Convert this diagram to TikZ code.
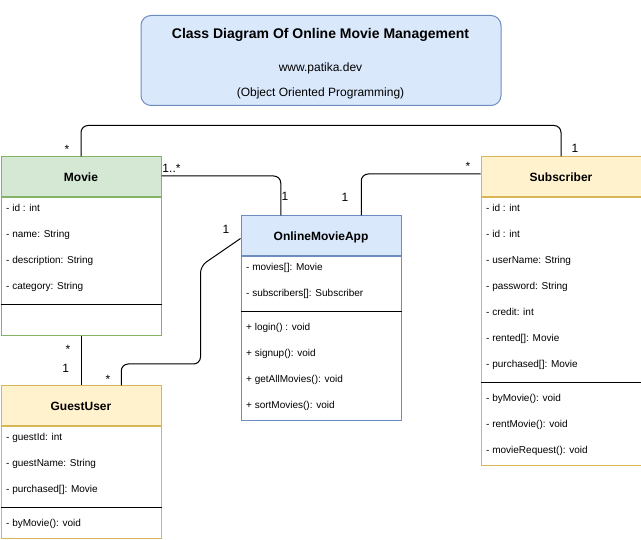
\documentclass[tikz,border=0pt]{standalone}
\usepackage{fontspec}
\setmainfont{Liberation Sans}
\usetikzlibrary{calc}
\definecolor{greenF}{HTML}{D5E8D4}
\definecolor{greenD}{HTML}{82B366}
\definecolor{blueF}{HTML}{DAE8FC}
\definecolor{blueD}{HTML}{6C8EBF}
\definecolor{yelF}{HTML}{FFF2CC}
\definecolor{yelD}{HTML}{D6B656}
\begin{document}
\begin{tikzpicture}[x=1pt,y=-1pt,
 hdr/.style={draw, line width=1pt, minimum width=160, minimum height=40, anchor=north west, inner sep=0,
   font=\fontsize{12}{14}\selectfont\bfseries, text height=8.6pt, text depth=0pt},
 bodybox/.style={draw, line width=1pt, fill=white, minimum width=160, anchor=north west, inner sep=0},
 attr/.style={anchor=base west, inner sep=0, font=\fontsize{10}{12}\selectfont},
 sepline/.style={line width=1pt, draw=black},
 conn/.style={line width=1pt, rounded corners=7pt},
 mult/.style={anchor=base, inner sep=0, font=\fontsize{12}{14}\selectfont},
]
\useasboundingbox (0,0) rectangle (641,540);

% title
\node[draw=blueD, fill=blueF, line width=1pt, rounded corners=10pt, minimum width=360, minimum height=90,
      anchor=north west, inner sep=0] (title) at (140.5,15) {};
\node[anchor=base, inner sep=0, font=\fontsize{14}{16}\selectfont\bfseries] (t1) at (320.5,39) {Class Diagram Of Online Movie Management};
\node[anchor=base, inner sep=0, font=\fontsize{12}{14}\selectfont] (t2) at (320.5,72) {www.patika.dev};
\node[anchor=base, inner sep=0, font=\fontsize{12}{14}\selectfont] (t3) at (320.5,97) {(Object Oriented Programming)};

% Movie
\node[hdr, draw=greenD, fill=greenF] (movie) at (0.5,156.5) {Movie};
\node[bodybox, draw=greenD, minimum height=138] (moviebody) at (movie.south west) {};
\node[attr] (m1) at (6,212) {- id : int};
\node[attr] (m2) at (6,238) {- name: String};
\node[attr] (m3) at (6,264) {- description: String};
\node[attr] (m4) at (6,290) {- category: String};
\draw[sepline] (moviebody.west |- 0,304.5) -- (moviebody.east |- 0,304.5);

% OnlineMovieApp
\node[hdr, draw=blueD, fill=blueF] (app) at (240.5,215.5) {OnlineMovieApp};
\node[bodybox, draw=blueD, minimum height=164] (appbody) at (app.south west) {};
\node[attr] (a1) at (246,271) {- movies[]: Movie};
\node[attr] (a2) at (246,297) {- subscribers[]: Subscriber};
\draw[sepline] (appbody.west |- 0,311.5) -- (appbody.east |- 0,311.5);
\node[attr] (a3) at (246,331) {+ login() : void};
\node[attr] (a4) at (246,357) {+ signup(): void};
\node[attr] (a5) at (246,383) {+ getAllMovies(): void};
\node[attr] (a6) at (246,409) {+ sortMovies(): void};

% Subscriber
\node[hdr, draw=yelD, fill=yelF] (sub) at (480.5,156.5) {Subscriber};
\node[bodybox, draw=yelD, minimum height=268] (subbody) at (sub.south west) {};
\node[attr] (s1) at (486,212) {- id : int};
\node[attr] (s2) at (486,238) {- id : int};
\node[attr] (s3) at (486,264) {- userName: String};
\node[attr] (s4) at (486,290) {- password: String};
\node[attr] (s5) at (486,316) {- credit: int};
\node[attr] (s6) at (486,342) {- rented[]: Movie};
\node[attr] (s7) at (486,368) {- purchased[]: Movie};
\draw[sepline] (subbody.west |- 0,382.5) -- (subbody.east |- 0,382.5);
\node[attr] (s8) at (486,402) {- byMovie(): void};
\node[attr] (s9) at (486,428) {- rentMovie(): void};
\node[attr] (s10) at (486,454) {- movieRequest(): void};

% GuestUser
\node[hdr, draw=yelD, fill=yelF] (guest) at (0.5,385.5) {GuestUser};
\node[bodybox, draw=yelD, minimum height=112] (guestbody) at (guest.south west) {};
\node[attr] (g1) at (6,441) {- guestId: int};
\node[attr] (g2) at (6,467) {- guestName: String};
\node[attr] (g3) at (6,493) {- purchased[]: Movie};
\draw[sepline] (guestbody.west |- 0,507.5) -- (guestbody.east |- 0,507.5);
\node[attr] (g4) at (6,527) {- byMovie(): void};

% connectors
\draw[conn] (movie.north) -- (movie.north |- 0,125.5) -| (sub.north);
\draw[conn] ([yshift=1pt]movie.east) -| ($(app.north west)!0.25!(app.north east)$);
\draw[conn] ([yshift=3pt]sub.west) -| ($(app.north west)!0.75!(app.north east)$);
\draw[conn] ([yshift=-2.5pt]app.west) -- (200.5,266) -- (200.5,364) -| ($(guest.north west)!0.75!(guest.north east)$);
\draw[line width=1pt] (moviebody.south) -- (guest.north);

% multiplicities
\node[mult] (l1) at (67,154) {*};
\node[mult] (l2) at (575,153) {1};
\node[mult] (l3) at (171.5,173) {1..*};
\node[mult] (l4) at (285,201) {1};
\node[mult] (l5) at (345,202) {1};
\node[mult] (l6) at (468,171) {*};
\node[mult] (l7) at (226,234) {1};
\node[mult] (l8) at (68,354) {*};
\node[mult] (l9) at (65.7,373) {1};
\node[mult] (l10) at (108,384) {*};
\end{tikzpicture}
\end{document}
